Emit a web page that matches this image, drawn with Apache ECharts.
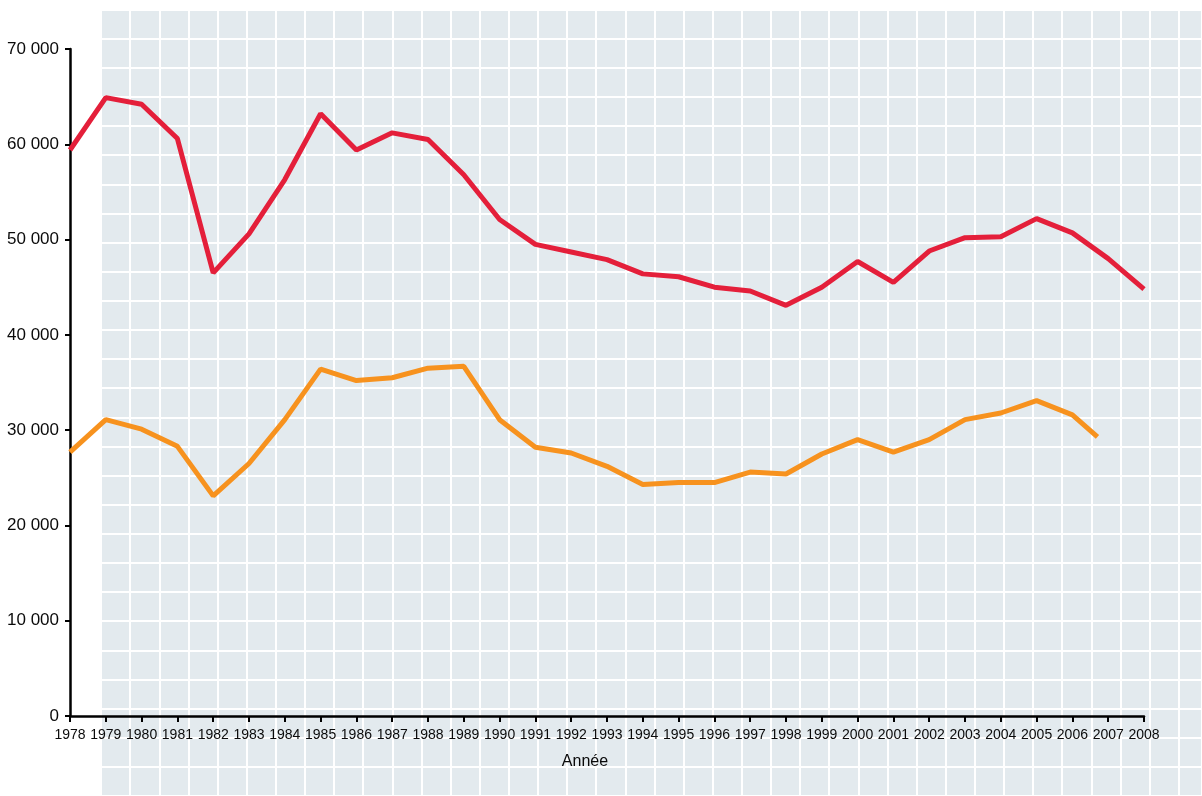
<!DOCTYPE html>
<html>
<head>
<meta charset="utf-8">
<script src="https://cdn.jsdelivr.net/npm/echarts@6/dist/echarts.min.js"></script>
<style>
html,body{margin:0;padding:0;background:#fff;}
#c{width:1202px;height:796px;}
</style>
</head>
<body>
<div id="c"></div>
<script>
const years = [1978,1979,1980,1981,1982,1983,1984,1985,1986,1987,1988,1989,1990,1991,1992,1993,1994,1995,1996,1997,1998,1999,2000,2001,2002,2003,2004,2005,2006,2007,2008];
const redValues = [59400,64900,64200,60600,46500,50600,56300,63200,59400,61200,60500,56800,52100,49500,48700,47900,46400,46100,45000,44600,43100,45000,47700,45500,48800,50200,50300,52200,50700,48000,44800];
const orangeYears = [1978,1979,1980,1981,1982,1983,1984,1985,1986,1987,1988,1989,1990,1991,1992,1993,1994,1995,1996,1997,1998,1999,2000,2001,2002,2003,2004,2005,2006,2006.7];
const orangeValues = [27700,31100,30100,28300,23100,26500,31100,36400,35200,35500,36500,36700,31100,28200,27600,26200,24300,24500,24500,25600,25400,27500,29000,27700,29000,31100,31800,33100,31600,29300];
const yTicks = [0,10000,20000,30000,40000,50000,60000,70000];
const xName = 'Année';

const FONT = "'Liberation Sans',Arial,sans-serif";
const chart = echarts.init(document.getElementById('c'), null, {renderer:'canvas'});

function fmtThousands(v){
  if (v === 0) return '0';
  return String(v).replace(/\B(?=(\d{3})+(?!\d))/g, ' ');
}

const redData = years.map((y,i)=>[y, redValues[i]]);
const orangeData = orangeYears.map((y,i)=>[y, orangeValues[i]]);

const option = {
  animation:false,
  backgroundColor:'#ffffff',
  grid:[
    {left:101, top:9.5, right:0, bottom:0, show:true, backgroundColor:'#e3eaee', borderWidth:0, z:0},
    {left:70, top:49, right:58, bottom:80, show:false}
  ],
  xAxis:[
    {gridIndex:0, type:'value', min:0, max:37.8, interval:1, axisLine:{show:false}, axisTick:{show:false}, axisLabel:{show:false},
     splitLine:{show:true, lineStyle:{color:'#ffffff', width:2}}},
    {gridIndex:1, type:'value', min:years[0], max:years[years.length-1], interval:1,
     axisLine:{show:true, onZero:false, lineStyle:{color:'#000', width:2.5}},
     axisTick:{show:true, inside:false, length:6, lineStyle:{color:'#000', width:2}},
     axisLabel:{show:true, margin:12, fontFamily:FONT, fontSize:14, color:'#0a0a0a', formatter:v=>String(v), showMinLabel:true, showMaxLabel:true, hideOverlap:false},
     splitLine:{show:false},
     name:xName, nameLocation:'middle', nameGap:38,
     nameTextStyle:{fontFamily:FONT, fontSize:16, color:'#0a0a0a', padding:[0,44,0,0]}},
    {gridIndex:1, type:'value', min:years[0], max:years[years.length-1], interval:1,
     axisLine:{show:false}, axisLabel:{show:false}, splitLine:{show:false},
     axisTick:{show:true, inside:true, length:5, lineStyle:{color:'#000', width:2}}}
  ],
  yAxis:[
    {gridIndex:0, type:'value', min:0, max:27, interval:1, axisLine:{show:false}, axisTick:{show:false}, axisLabel:{show:false},
     splitLine:{show:true, lineStyle:{color:'#ffffff', width:2}}},
    {gridIndex:1, type:'value', min:yTicks[0], max:yTicks[yTicks.length-1], interval:10000,
     axisLine:{show:true, lineStyle:{color:'#000', width:2.5}},
     axisTick:{show:true, length:5, lineStyle:{color:'#000', width:2}},
     axisLabel:{margin:11, fontFamily:FONT, fontSize:17, color:'#0a0a0a', formatter:fmtThousands},
     splitLine:{show:false}}
  ],
  series:[
    {type:'line', xAxisIndex:1, yAxisIndex:1, data:redData, symbol:'none', lineStyle:{color:'#e41f3a', width:5}, z:5},
    {type:'line', xAxisIndex:1, yAxisIndex:1, data:orangeData, symbol:'none', lineStyle:{color:'#f7921e', width:5}, z:4}
  ]
};
chart.setOption(option);
</script>
</body>
</html>
